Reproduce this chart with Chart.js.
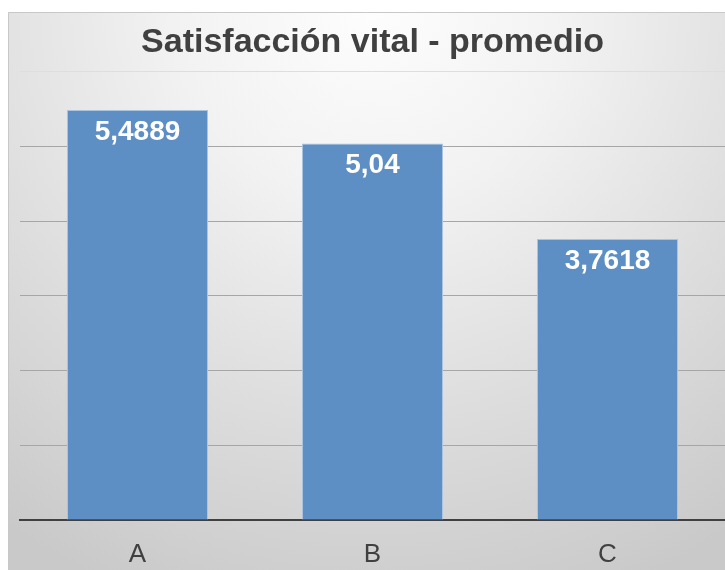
<!DOCTYPE html>
<html>
<head>
<meta charset="utf-8">
<script src="https://cdn.jsdelivr.net/npm/chart.js@4"></script>
<style>
    html, body { margin: 0; padding: 0; background: #ffffff; }
    #wrap { width: 725px; height: 570px; }
</style>
</head>
<body>
<div id="wrap"><canvas id="satChart" width="725" height="570"></canvas></div>
<script>
// Chart data
const categories = ['A', 'B', 'C'];
const promedios = [5.4889, 5.04, 3.7618];
const valueLabels = ['5,4889', '5,04', '3,7618'];
const yMax = 6;

// Panel background with a soft radial shading, like the office chart style
const panelBackground = {
    id: 'panelBackground',
    beforeDraw(chart) {
        const ctx = chart.ctx;
        const w = chart.width, h = chart.height;
        ctx.save();
        ctx.fillStyle = '#ffffff';
        ctx.fillRect(0, 0, w, h);
        const grad = ctx.createRadialGradient(370, 0, 10, 370, 0, 640);
        grad.addColorStop(0, '#fdfdfd');
        grad.addColorStop(0.3, '#f2f2f2');
        grad.addColorStop(0.65, '#dddddd');
        grad.addColorStop(1, '#c9c9c9');
        ctx.fillStyle = grad;
        ctx.fillRect(8, 12, w - 8, h - 12);
        ctx.strokeStyle = '#c8c8c8';
        ctx.lineWidth = 1;
        ctx.beginPath();
        ctx.moveTo(8.5, h);
        ctx.lineTo(8.5, 12.5);
        ctx.lineTo(w, 12.5);
        ctx.stroke();
        ctx.restore();
    }
};

// Value labels inside the top of each bar
const barValueLabels = {
    id: 'barValueLabels',
    afterDatasetsDraw(chart) {
        const ctx = chart.ctx;
        const meta = chart.getDatasetMeta(0);
        ctx.save();
        ctx.fillStyle = '#ffffff';
        ctx.font = 'bold 28px "Liberation Sans", Arial, sans-serif';
        ctx.textAlign = 'center';
        ctx.textBaseline = 'middle';
        meta.data.forEach((bar, i) => {
            ctx.fillText(valueLabels[i], bar.x, bar.y + 22);
        });
        ctx.restore();
    }
};

const ctx = document.getElementById('satChart').getContext('2d');
const satChart = new Chart(ctx, {
    type: 'bar',
    data: {
        labels: categories,
        datasets: [{
            label: 'Satisfacción vital',
            data: promedios,
            backgroundColor: '#5d8ec4',
            borderColor: '#a9c3e0',
            borderWidth: 1,
            barPercentage: 0.6,
            categoryPercentage: 1.0
        }]
    },
    options: {
        responsive: false,
        animation: false,
        layout: {
            padding: { left: 20, right: 0, top: 0, bottom: 0 }
        },
        plugins: {
            legend: { display: false },
            tooltip: { enabled: false },
            title: {
                display: true,
                text: 'Satisfacción vital - promedio',
                color: '#404040',
                font: { family: '"Liberation Sans", Arial, sans-serif', size: 34, weight: 'bold' },
                padding: { top: 22, bottom: 9 }
            }
        },
        scales: {
            x: {
                grid: { display: false },
                border: { display: true, color: '#404040', width: 2 },
                ticks: {
                    color: '#404040',
                    padding: 11,
                    font: { family: '"Liberation Sans", Arial, sans-serif', size: 26 }
                },
                afterFit(scale) {
                    scale.height = 50;
                }
            },
            y: {
                min: 0,
                max: yMax,
                ticks: { display: false, stepSize: 1 },
                border: { display: false },
                grid: {
                    color: (c) => c.tick && c.tick.value === yMax ? '#dedede' : '#a6a6a6',
                    lineWidth: 1,
                    drawTicks: false
                }
            }
        }
    },
    plugins: [panelBackground, barValueLabels]
});
</script>
</body>
</html>
